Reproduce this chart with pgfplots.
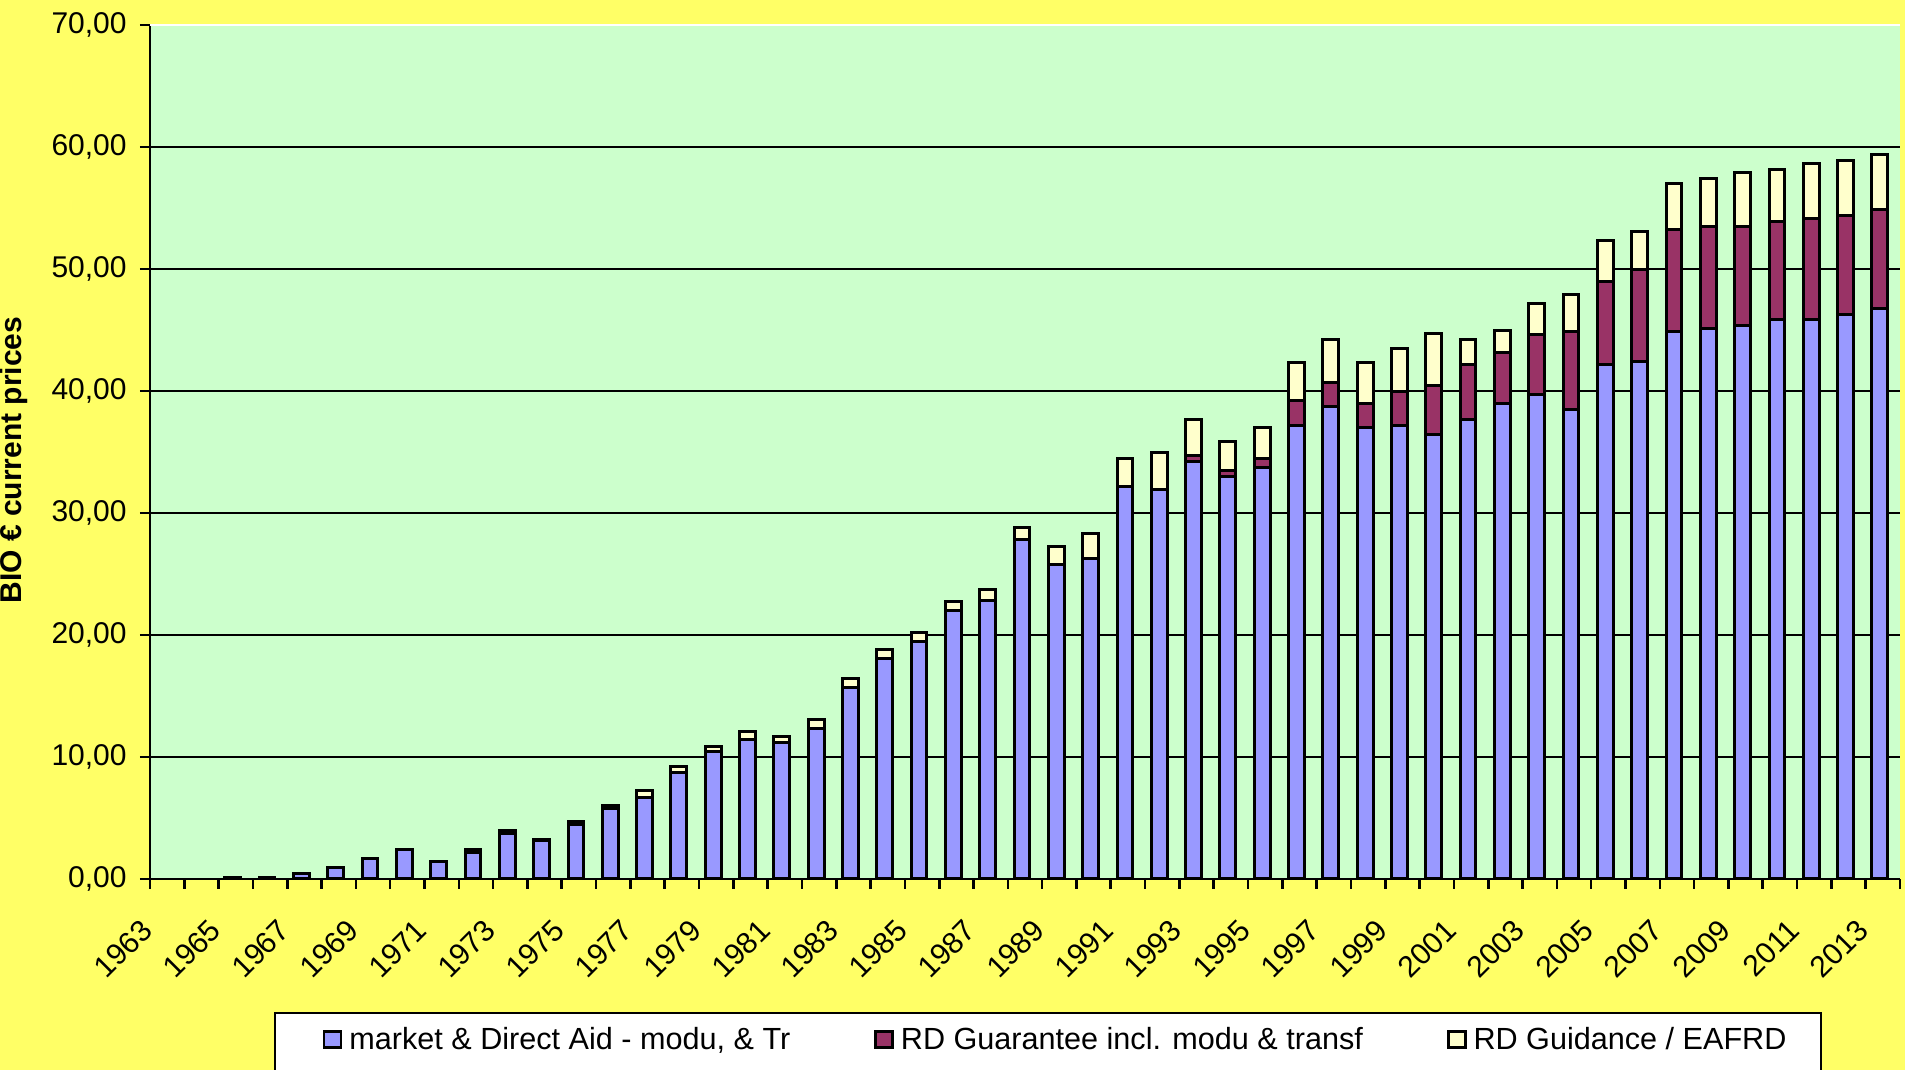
\documentclass[border=0pt]{standalone}
\usepackage{fontspec}
\setmainfont{Liberation Sans}
\usepackage{pgfplots}
\usepackage{pgfplotstable}
\pgfplotsset{compat=1.18}

\definecolor{sheet}{HTML}{FFFF66}
\definecolor{plotbg}{HTML}{CCFFCC}
\definecolor{market}{HTML}{9999FF}
\definecolor{rdguar}{HTML}{993366}
\definecolor{rdguid}{HTML}{FFFFCC}

% k = year - 1963 ; values in BIO EUR
\pgfplotstableread{
k blue rd guid
2 0.15 0 0
3 0.15 0 0
4 0.45 0 0
5 0.95 0 0
6 1.65 0 0
7 2.40 0 0
8 1.45 0 0
9 2.20 0 0.20
10 3.70 0 0.25
11 3.15 0 0.08
12 4.50 0 0.25
13 5.75 0 0.25
14 6.70 0 0.55
15 8.75 0 0.50
16 10.45 0 0.45
17 11.40 0 0.70
18 11.20 0 0.45
19 12.35 0 0.70
20 15.70 0 0.70
21 18.10 0 0.70
22 19.50 0 0.70
23 22.00 0 0.75
24 22.80 0 0.95
25 27.80 0 1.00
26 25.80 0 1.45
27 26.30 0 2.00
28 32.20 0 2.25
29 31.95 0 3.00
30 34.25 0.50 2.95
31 33.00 0.45 2.45
32 33.75 0.75 2.50
33 37.20 2.00 3.15
34 38.70 2.00 3.55
35 37.00 2.00 3.35
36 37.20 2.75 3.55
37 36.45 4.00 4.30
38 37.70 4.45 2.10
39 38.95 4.20 1.85
40 39.70 4.90 2.55
41 38.50 6.35 3.10
42 42.15 6.85 3.30
43 42.40 7.60 3.05
44 44.90 8.30 3.80
45 45.10 8.35 4.00
46 45.35 8.10 4.50
47 45.85 8.05 4.25
48 45.85 8.30 4.50
49 46.30 8.10 4.50
50 46.80 8.10 4.50
}\capdata

\begin{document}
\begin{tikzpicture}
\useasboundingbox (0,0) rectangle (952.5pt,535pt);
\clip (0,0) rectangle (952.5pt,535pt);
\fill[sheet] (0,0) rectangle (952.5pt,535pt);
% legend frame (runs off the bottom of the sheet)
\draw[fill=white, line width=1.4pt] (137.5pt,-12pt) rectangle (910.5pt,28.5pt);
\begin{axis}[
  at={(75pt,95.5pt)}, anchor=south west,
  scale only axis, width=875pt, height=427pt,
  font=\fontsize{15}{18}\selectfont,
  ybar stacked, bar width=7.9pt, bar shift=-1.5pt,
  xmin=-0.5, xmax=50.5, ymin=0, ymax=70,
  axis background/.style={fill=plotbg},
  axis x line*=bottom, axis y line*=left,
  axis line style={-, line width=1.4pt},
  tick align=outside, major tick length=5pt, minor tick length=5pt,
  tick style={black, line width=1.3pt},
  ytick={0,10,...,60},
  extra y ticks={70},
  extra y tick style={major grid style={draw=white, line width=1pt}},
  ymajorgrids, major grid style={black, line width=1.4pt},
  /pgf/number format/.cd, fixed, fixed zerofill, precision=2, use comma, assume math mode=true,
  /pgfplots/.cd,
  yticklabel style={anchor=east, inner sep=0pt, xshift=-6.5pt},
  xtick={0,2,...,50},
  xticklabels={1963,1965,1967,1969,1971,1973,1975,1977,1979,1981,1983,1985,1987,1989,1991,1993,1995,1997,1999,2001,2003,2005,2007,2009,2011,2013},
  every major x tick/.append style={draw=none},
  minor xtick={-0.5,0.5,...,50.5},
  xticklabel style={xshift=-10pt, yshift=-18pt, rotate=45, anchor=east, inner sep=0pt},
  ylabel={BIO € current prices},
  every axis y label/.style={at={(axis description cs:0,0.5)}, xshift=-68pt, yshift=-4pt, rotate=90, anchor=center, font=\fontsize{15}{18}\selectfont\bfseries},
  legend columns=3,
  legend style={at={(axis description cs:0.0985,-0.1885)}, anchor=west, draw=none, fill=none,
    inner sep=0pt, font=\fontsize{15.3}{18}\selectfont,
    /tikz/every odd column/.append style={column sep=1.5pt},
    /tikz/every even column/.append style={column sep=40pt}},
  legend image code/.code={\draw[#1, line width=1.3pt] (0pt,-3.8pt) rectangle (8.5pt,4.2pt);},
]
\addplot[fill=market, draw=black, line width=1.5pt] table[x=k, y=blue] {\capdata};
\addplot[fill=rdguar, draw=black, line width=1.5pt] table[x=k, y=rd] {\capdata};
\addplot[fill=rdguid, draw=black, line width=1.5pt] table[x=k, y=guid] {\capdata};
\addlegendentry{market \& Direct Aid - modu, \& Tr}
\addlegendentry{RD Guarantee incl. modu \& transf}
\addlegendentry{RD Guidance / EAFRD}
\end{axis}
\end{tikzpicture}
\end{document}
